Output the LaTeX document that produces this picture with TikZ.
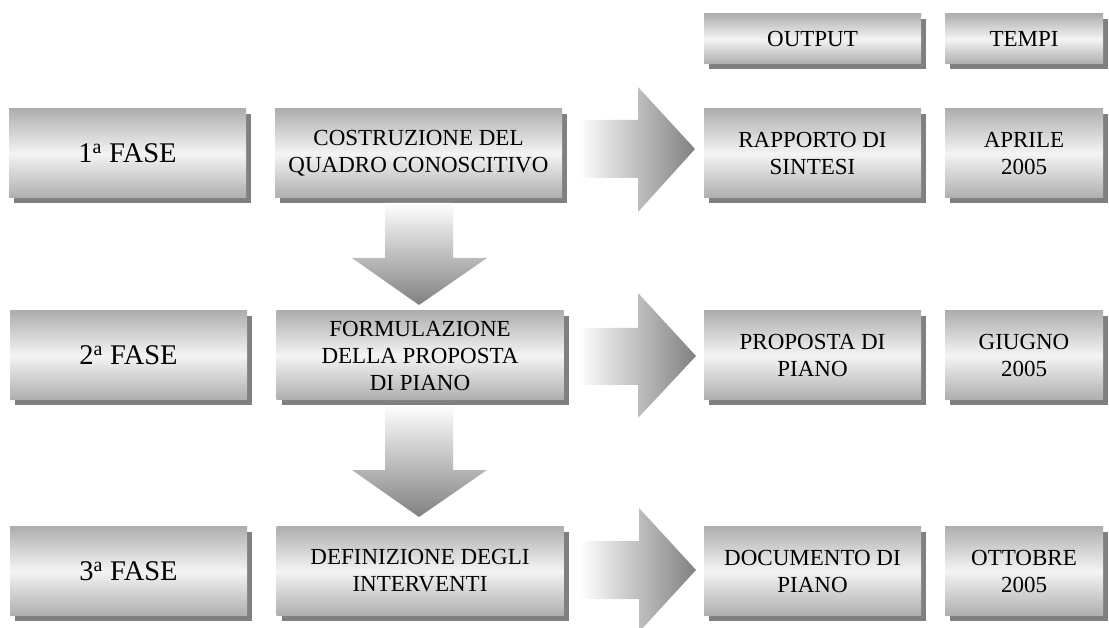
\documentclass[tikz,border=0pt]{standalone}
\usepackage{fontspec}
\setmainfont{Liberation Serif}
\usetikzlibrary{shadows}
\definecolor{boxedge}{RGB}{174,174,174}
\definecolor{boxmid}{RGB}{244,244,244}
\definecolor{shadowgray}{RGB}{128,128,128}
\definecolor{arrowdark}{RGB}{128,128,128}
\tikzset{
  panel/.style={inner sep=0pt, top color=boxedge, bottom color=boxedge, middle color=boxmid,
    align=center, font=\fontsize{23}{27}\selectfont,
    drop shadow={shadow xshift=5pt, shadow yshift=-5pt, opacity=1, fill=shadowgray}},
  phase/.style={panel, font=\fontsize{28.5}{32}\selectfont},
  fcol/.style={minimum width=237pt},
  ccol/.style={minimum width=287pt},
  ocol/.style={minimum width=217pt},
  tcol/.style={minimum width=158pt},
  rowh/.style={minimum height=89pt},
  headh/.style={minimum height=50pt},
  rarrowshape/.style={left color=white, right color=arrowdark},
  darrowshape/.style={top color=white, bottom color=arrowdark},
}
\begin{document}
\begin{tikzpicture}[x=1pt,y=-1pt]
\useasboundingbox (0,0) rectangle (1109,628);
% header
\node[panel, ocol, headh] (hout) at (812.5,39) {OUTPUT};
\node[panel, tcol, headh] (htem) at (1024,39) {TEMPI};
% row 1
\node[phase, fcol, rowh] (f1) at (127.5,153.5) {1\textsuperscript{a} FASE};
\node[panel, ccol, rowh] (c1) at (418.5,153.5) {COSTRUZIONE DEL\\QUADRO CONOSCITIVO};
\node[panel, ocol, rowh] (o1) at (812.5,153.5) {RAPPORTO DI\\SINTESI};
\node[panel, tcol, rowh] (t1) at (1024,153.5) {APRILE\\2005};
% row 2
\node[phase, fcol, rowh] (f2) at (128.5,355.5) {2\textsuperscript{a} FASE};
\node[panel, ccol, rowh] (c2) at (420,355.5) {FORMULAZIONE\\DELLA PROPOSTA\\DI PIANO};
\node[panel, ocol, rowh] (o2) at (812.5,355.5) {PROPOSTA DI\\PIANO};
\node[panel, tcol, rowh] (t2) at (1024,355.5) {GIUGNO\\2005};
% row 3
\node[phase, fcol, rowh] (f3) at (128.5,571) {3\textsuperscript{a} FASE};
\node[panel, ccol, rowh] (c3) at (420,571) {DEFINIZIONE DEGLI\\INTERVENTI};
\node[panel, ocol, rowh] (o3) at (812.5,571) {DOCUMENTO DI\\PIANO};
\node[panel, tcol, rowh] (t3) at (1024,571) {OTTOBRE\\2005};
% right block arrows
\path[rarrowshape] (578,120) -- (638,120) -- (638,87) -- (695,149) -- (638,212) -- (638,178) -- (578,178) -- cycle;
\path[rarrowshape] (578,328) -- (638,328) -- (638,293) -- (696,356) -- (638,418) -- (638,385) -- (578,385) -- cycle;
\path[rarrowshape] (580,541) -- (639,541) -- (639,508) -- (696,570) -- (639,632) -- (639,599) -- (580,599) -- cycle;
% down block arrows
\path[darrowshape] (385,203) -- (453,203) -- (453,258) -- (487,258) -- (419,305) -- (352,258) -- (385,258) -- cycle;
\path[darrowshape] (385,405) -- (453,405) -- (453,470) -- (487,470) -- (419,517) -- (352,470) -- (385,470) -- cycle;
\end{tikzpicture}
\end{document}
